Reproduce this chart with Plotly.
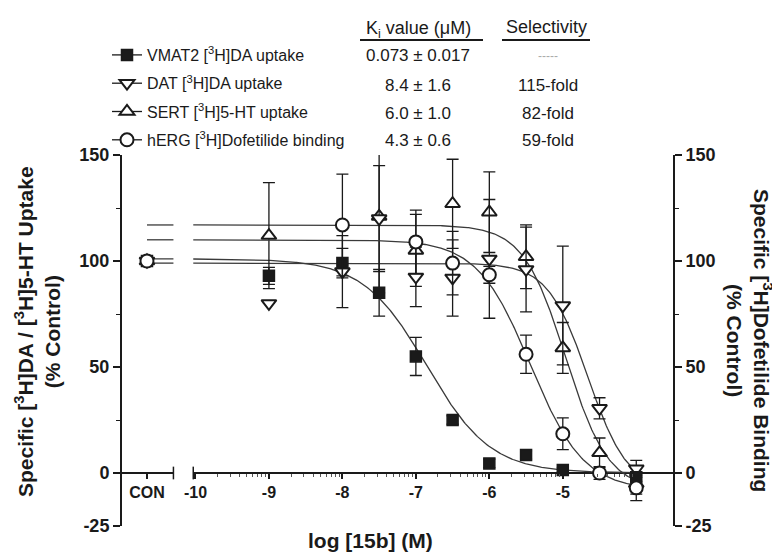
import numpy as np
import plotly.graph_objects as go

# ---------------- data ----------------
CON = "CON"

vmat2_x = [CON, -9, -8, -7.5, -7, -6.5, -6, -5.5, -5, -4]
vmat2_y = [100, 93, 99, 85, 55, 25, 4.5, 8.5, 1.4, -2]
vmat2_e = [0, 4, 7, 11, 9, 2, 2, 2, 1, 2]

dat_x = [CON, -9, -8, -7.5, -7, -6.5, -6, -5.5, -5, -4.5, -4]
dat_y = [100, 80, 95, 120, 92.5, 92, 101, 96, 79, 30.5, 2]
dat_e = [0, 0, 17, 25, 14, 18, 28, 20, 28, 5, 4]

sert_x = [CON, -9, -7.5, -7, -6.5, -6, -5.5, -5, -4.5, -4]
sert_y = [100, 112, 121, 105, 127, 123, 102, 59, 9.5, -5]
sert_e = [0, 25, 36, 17, 21, 19, 15, 12, 7, 5]

herg_x = [CON, -8, -7, -6.5, -6, -5.5, -5, -4.5, -4]
herg_y = [100, 117, 109, 99, 93.5, 56, 18.5, 0, -7]
herg_e = [0, 24, 15, 15, 4, 9, 7.5, 3, 6]

# fitted sigmoid parameters: top, bottom, logIC50, Hill slope
vmat2_fit = [101, 0, -6.85, 1.0]
dat_fit = [99, -8, -4.66, 1.6]
sert_fit = [117, -8, -4.96, 1.5]
herg_fit = [110, -8, -5.44, 1.2]

series_names = [
    "VMAT2 [<sup>3</sup>H]DA uptake",
    "DAT [<sup>3</sup>H]DA uptake",
    "SERT [<sup>3</sup>H]5-HT uptake",
    "hERG [<sup>3</sup>H]Dofetilide binding",
]
ki_values = ["0.073 \u00b1 0.017", "8.4 \u00b1 1.6", "6.0 \u00b1 1.0", "4.3 \u00b1 0.6"]
selectivity = ["-----", "115-fold", "82-fold", "59-fold"]

x_tick_vals = [CON, -10, -9, -8, -7, -6, -5, -4]
x_tick_text = ["CON", "-10", "-9", "-8", "-7", "-6", "-5", ""]
y_tick_vals = [150, 100, 50, 0, -25]
y_minor_vals = [125, 75, 25]

# ---------------- layout constants ----------------
CON_X = -10.66          # axis position used for the control point
BREAK_L, BREAK_R = -10.30, -10.03
X_RANGE = [-11, -3.5]
Y_RANGE = [-25, 150]
FIT_END = -4
W, H = 780, 555
PAGE_OFF = 8                     # default body margin of the html page
PLOT_L, PLOT_R, PLOT_T, PLOT_B = 122, 673, 155, 526   # target screen pixels
ML = PLOT_L - PAGE_OFF
MT = PLOT_T - PAGE_OFF
MR = W - (PLOT_R - PAGE_OFF)
MB = H - (PLOT_B - PAGE_OFF)
PW = PLOT_R - PLOT_L
PH = PLOT_B - PLOT_T
FONT = "Liberation Sans, Arial, Helvetica, sans-serif"
INK = "#1a1a1a"


def xpos(lst):
    return [CON_X if v == CON else v for v in lst]


def logistic(x, top, bottom, logic50, hill):
    return bottom + (top - bottom) / (1 + 10 ** (hill * (x - logic50)))


def curve(params):
    seg1 = np.linspace(CON_X, BREAK_L, 5)
    seg2 = np.linspace(BREAK_R, FIT_END, 400)
    xs = list(seg1) + [None] + list(seg2)
    ys = [None if v is None else logistic(v, *params) for v in xs]
    return xs, ys


def px_x(px):   # screen pixel -> paper fraction
    return (px - PLOT_L) / PW


def px_y(py):
    return (PLOT_B - py) / PH


styles = [
    dict(symbol="square", size=11, color=INK, line=dict(color=INK, width=1.5)),
    dict(symbol="triangle-down", size=13, color="white", line=dict(color=INK, width=2)),
    dict(symbol="triangle-up", size=13, color="white", line=dict(color=INK, width=2)),
    dict(symbol="circle", size=13, color="white", line=dict(color=INK, width=2)),
]
data = [
    (vmat2_x, vmat2_y, vmat2_e, vmat2_fit, "y"),
    (dat_x, dat_y, dat_e, dat_fit, "y"),
    (sert_x, sert_y, sert_e, sert_fit, "y"),
    (herg_x, herg_y, herg_e, herg_fit, "y2"),
]

fig = go.Figure()

# fitted curves
for (xs_, ys_, es_, fit, ax) in data:
    cx, cy = curve(fit)
    fig.add_trace(go.Scatter(x=cx, y=cy, mode="lines", yaxis=ax,
                             line=dict(color="#3a3a3a", width=1.3),
                             showlegend=False, hoverinfo="skip"))

# data points with error bars (draw order: hERG, SERT, DAT, VMAT2)
for i in [3, 2, 1, 0]:
    xs_, ys_, es_, fit, ax = data[i]
    fig.add_trace(go.Scatter(
        x=xpos(xs_), y=ys_, mode="markers", yaxis=ax,
        marker=styles[i],
        error_y=dict(type="data", array=es_, visible=True, color=INK,
                     thickness=1.3, width=6),
        showlegend=False, name=series_names[i]))

# legend entries
for i, name in enumerate(series_names):
    fig.add_trace(go.Scatter(
        x=[None], y=[None], mode="lines+markers", name=name,
        legendgroup=str(i), marker=styles[i],
        line=dict(color=INK, width=1.3), showlegend=True))

# broken x axis line drawn at y = 0
shapes = [
    dict(type="line", xref="x", yref="y", x0=X_RANGE[0], x1=BREAK_L, y0=0, y1=0,
         line=dict(color=INK, width=2), layer="below"),
    dict(type="line", xref="x", yref="y", x0=BREAK_R, x1=X_RANGE[1], y0=0, y1=0,
         line=dict(color=INK, width=2), layer="below"),
    dict(type="line", xref="x", yref="y", x0=BREAK_L, x1=BREAK_L, y0=-3, y1=3,
         line=dict(color=INK, width=1.5), layer="below"),
    dict(type="line", xref="x", yref="y", x0=BREAK_R, x1=BREAK_R, y0=-3, y1=3,
         line=dict(color=INK, width=1.5), layer="below"),
    # table header underlines
    dict(type="line", xref="paper", yref="paper", x0=px_x(360), x1=px_x(483),
         y0=px_y(40), y1=px_y(40), line=dict(color=INK, width=2)),
    dict(type="line", xref="paper", yref="paper", x0=px_x(502), x1=px_x(590),
         y0=px_y(40), y1=px_y(40), line=dict(color=INK, width=2)),
]

row_y = [56, 85, 113, 140]
ann = []
ann.append(dict(text="K<sub>i</sub> value (\u03bcM)", x=px_x(418), y=px_y(29),
                font=dict(size=18)))
ann.append(dict(text="Selectivity", x=px_x(546), y=px_y(27), font=dict(size=18)))
for r, ki, sel in zip(row_y, ki_values, selectivity):
    ann.append(dict(text=ki, x=px_x(418), y=px_y(r), font=dict(size=17)))
    ann.append(dict(text=sel, x=px_x(548), y=px_y(r),
                    font=dict(size=17 if sel != "-----" else 12,
                              color=INK if sel != "-----" else "#aaaaaa")))
# axis titles
ann.append(dict(text="<b>Specific [<sup>3</sup>H]DA / [<sup>3</sup>H]5-HT Uptake</b><br><b>(% Control)</b>",
                x=px_x(37), y=px_y(332), textangle=-90, font=dict(size=21)))
ann.append(dict(text="<b>Specific [<sup>3</sup>H]Dofetilide Binding</b><br><b>(% Control)</b>",
                x=px_x(750), y=px_y(340), textangle=90, font=dict(size=21)))
ann.append(dict(text="<b>log [15b] (M)</b>", x=px_x(370), y=px_y(540),
                font=dict(size=21)))
for a in ann:
    a.update(xref="paper", yref="paper", showarrow=False,
             xanchor="center", yanchor="middle")
    a["font"].setdefault("color", INK)
    a["font"]["family"] = FONT

yaxis_common = dict(
    range=Y_RANGE, showgrid=False, zeroline=False, showline=True,
    linecolor=INK, linewidth=2, ticks="outside", ticklen=7, tickwidth=1.5,
    tickcolor=INK, tickvals=y_tick_vals, ticktext=[str(v) for v in y_tick_vals],
    tickfont=dict(size=18, family=FONT, color=INK, weight="bold"),
    minor=dict(tickvals=y_minor_vals, ticklen=4, tickwidth=1.2, tickcolor=INK,
               ticks="outside"),
    fixedrange=True, automargin=False,
)

minor_x = []
for d in range(-10, -4):
    for k in range(2, 10):
        minor_x.append(d + np.log10(k))

fig.update_layout(
    width=W, height=H,
    margin=dict(l=ML, r=MR, t=MT, b=MB, pad=0, autoexpand=False),
    paper_bgcolor="white", plot_bgcolor="white",
    font=dict(family=FONT, color=INK),
    xaxis=dict(
        range=X_RANGE, showgrid=False, zeroline=False, showline=False,
        anchor="free", position=(0 - Y_RANGE[0]) / (Y_RANGE[1] - Y_RANGE[0]),
        ticks="outside", ticklen=5, tickwidth=1.5, tickcolor=INK, tickangle=0,
        tickvals=xpos(x_tick_vals), ticktext=x_tick_text,
        tickfont=dict(size=16, family=FONT, color=INK, weight="bold"),
        minor=dict(tickvals=minor_x, ticklen=3, tickwidth=1, tickcolor="#555",
                   ticks="outside"),
        fixedrange=True, automargin=False,
    ),
    yaxis=yaxis_common,
    yaxis2=dict(yaxis_common, overlaying="y", side="right", anchor="x"),
    legend=dict(xref="container", yref="container",
                x=(107 - PAGE_OFF) / W, y=1 - (38 - PAGE_OFF) / H,
                xanchor="left", yanchor="top", bgcolor="rgba(0,0,0,0)",
                font=dict(size=16, family=FONT, color=INK),
                tracegroupgap=4.5, itemwidth=30),
    shapes=shapes,
    annotations=ann,
)

fig.write_html("out.html")
